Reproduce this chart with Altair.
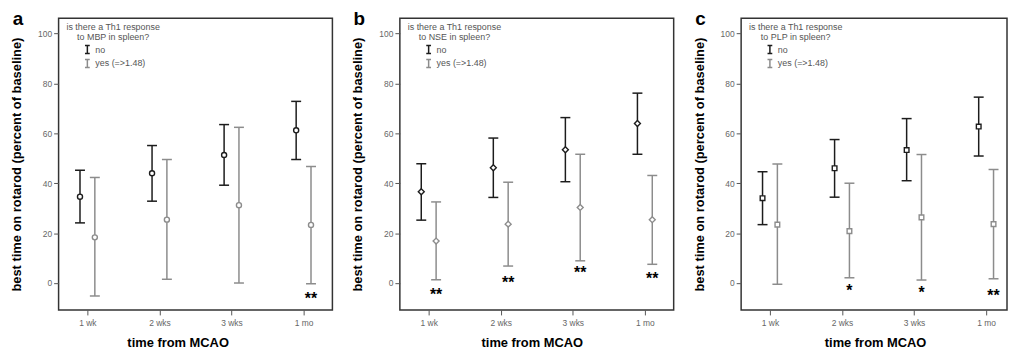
import altair as alt
import pandas as pd

CATEGORIES = ["1 wk", "2 wks", "3 wks", "1 mo"]
GROUPS = ["no", "yes (=>1.48)"]
Y_TICKS = [0, 20, 40, 60, 80, 100]

# Panel a (MBP)
A_NO_MEAN = [34.6, 44.0, 51.3, 61.2]
A_NO_LO = [24.1, 32.8, 39.2, 49.5]
A_NO_HI = [45.2, 55.1, 63.5, 72.8]
A_YES_MEAN = [18.3, 25.4, 31.2, 23.3]
A_YES_LO = [-5.2, 1.5, 0.0, -0.3]
A_YES_HI = [42.3, 49.5, 62.4, 46.7]
A_STARS = ["", "", "", "**"]
A_STAR_Y = [0, 0, 0, -5.0]

# Panel b (NSE)
B_NO_MEAN = [36.6, 46.2, 53.4, 63.9]
B_NO_LO = [25.2, 34.3, 40.6, 51.6]
B_NO_HI = [47.8, 58.1, 66.3, 76.1]
B_YES_MEAN = [16.8, 23.6, 30.3, 25.4]
B_YES_LO = [1.3, 6.8, 8.9, 7.5]
B_YES_HI = [32.5, 40.4, 51.6, 43.1]
B_STARS = ["**", "**", "**", "**"]
B_STAR_Y = [-3.4, 1.6, 5.6, 3.3]

# Panel c (PLP)
C_NO_MEAN = [34.0, 46.0, 53.3, 62.7]
C_NO_LO = [23.4, 34.4, 41.0, 50.9]
C_NO_HI = [44.6, 57.5, 65.9, 74.5]
C_YES_MEAN = [23.4, 20.8, 26.3, 23.6]
C_YES_LO = [-0.5, 2.1, 1.2, 1.7]
C_YES_HI = [47.7, 40.0, 51.5, 45.5]
C_STARS = ["", "*", "*", "**"]
C_STAR_Y = [0, -1.6, -2.6, -3.7]

FONT = "Liberation Sans"
DODGE = 0.103
CAP = 0.069


def panel(letter, antigen, shape, msize, no_mean, no_lo, no_hi,
          yes_mean, yes_lo, yes_hi, stars, star_y, width, xmax, title_x):
    rows = []
    for i in range(len(CATEGORIES)):
        rows.append({"i": i + 1, "g": GROUPS[0], "m": no_mean[i], "lo": no_lo[i], "hi": no_hi[i]})
        rows.append({"i": i + 1, "g": GROUPS[1], "m": yes_mean[i], "lo": yes_lo[i], "hi": yes_hi[i]})
    df = pd.DataFrame(rows)
    sdf = pd.DataFrame({"i": list(range(1, 5)), "t": stars, "sy": star_y})
    sdf = sdf[sdf["t"] != ""]

    label_list = "[" + ",".join("'" + c + "'" for c in CATEGORIES) + "]"
    xaxis = alt.Axis(values=[1, 2, 3, 4], labelExpr=label_list + "[datum.value - 1]",
                     title="time from MCAO", titleFontSize=13, titleFontWeight="bold",
                     titleColor="black", titleX=title_x, titleAlign="center",
                     titlePadding=9, labelFontSize=8.5, labelColor="#666",
                     labelPadding=4, tickColor="#555", tickSize=5, domain=False,
                     grid=False, labelFont=FONT, titleFont=FONT)
    yaxis = alt.Axis(values=Y_TICKS, title="best time on rotarod (percent of baseline)",
                     titleFontSize=13, titleFontWeight="bold", titleColor="black",
                     titlePadding=14, labelFontSize=8.5, labelColor="#666",
                     labelPadding=2, tickColor="#555", tickSize=5, domain=False,
                     grid=False, labelFont=FONT, titleFont=FONT)
    xs = alt.Scale(domain=[0.6, xmax], nice=False, zero=False)
    ys = alt.Scale(domain=[-10.8, 106.1], nice=False, zero=False)
    legend = alt.Legend(title=["is there a Th1 response", "to " + antigen + " in spleen?"],
                        orient="none", legendX=8, legendY=5,
                        symbolType="M-0.6,-1H0.6M0,-1V1M-0.6,1H0.6",
                        symbolSize=64, symbolStrokeWidth=1.5, symbolOffset=1,
                        symbolFillColor="transparent",
                        labelOffset=3, titleFontSize=9, titleFontWeight="normal",
                        titleColor="#555", labelFontSize=9, labelColor="#555",
                        titleAnchor="middle", titleAlign="center", rowPadding=0,
                        titlePadding=3, titleLineHeight=9.5, padding=0,
                        titleFont=FONT, labelFont=FONT)
    color = alt.Color("g:N", scale=alt.Scale(domain=GROUPS, range=["#1c1c1c", "#8c8c8c"]),
                      legend=legend)

    base = alt.Chart(df).transform_calculate(
        xp="datum.i + (datum.g == 'no' ? -%f : %f)" % (DODGE, DODGE)
    ).transform_calculate(
        c1="datum.xp - %f" % CAP, c2="datum.xp + %f" % CAP
    )

    bars = base.mark_rule(strokeWidth=1.5).encode(
        x=alt.X("xp:Q", scale=xs, axis=xaxis),
        y=alt.Y("lo:Q", scale=ys, axis=yaxis),
        y2="hi:Q",
        color=color,
    )
    cap_lo = base.mark_rule(strokeWidth=1.5).encode(
        x=alt.X("c1:Q", scale=xs, axis=xaxis), x2="c2:Q",
        y=alt.Y("lo:Q", scale=ys, axis=yaxis), color=color,
    )
    cap_hi = base.mark_rule(strokeWidth=1.5).encode(
        x=alt.X("c1:Q", scale=xs, axis=xaxis), x2="c2:Q",
        y=alt.Y("hi:Q", scale=ys, axis=yaxis), color=color,
    )
    pts = base.mark_point(shape=shape, filled=False, fill="white", size=msize,
                          strokeWidth=1.4, opacity=1).encode(
        x=alt.X("xp:Q", scale=xs, axis=xaxis),
        y=alt.Y("m:Q", scale=ys, axis=yaxis),
        color=color,
    )
    star = alt.Chart(sdf).transform_calculate(
        xs="datum.i + %f" % DODGE
    ).mark_text(fontSize=16, fontWeight="bold", baseline="alphabetic", dy=9,
                color="black", font=FONT).encode(
        x=alt.X("xs:Q", scale=xs, axis=xaxis),
        y=alt.Y("sy:Q", scale=ys, axis=yaxis),
        text="t:N",
    )
    lett = alt.Chart(pd.DataFrame({"t": [letter]})).mark_text(
        fontSize=19, fontWeight="bold", baseline="alphabetic", align="center",
        color="black", font=FONT).encode(
        x=alt.value(-41), y=alt.value(7), text="t:N")

    return alt.layer(bars, cap_lo, cap_hi, pts, star, lett).properties(width=width, height=294)


pa = panel("a", "MBP", "circle", 26, A_NO_MEAN, A_NO_LO, A_NO_HI, A_YES_MEAN, A_YES_LO,
           A_YES_HI, A_STARS, A_STAR_Y, 276, 4.4, 120)
pb = panel("b", "NSE", "diamond", 36, B_NO_MEAN, B_NO_LO, B_NO_HI, B_YES_MEAN, B_YES_LO,
           B_YES_HI, B_STARS, B_STAR_Y, 276, 4.4, 133)
pc = panel("c", "PLP", "square", 22, C_NO_MEAN, C_NO_LO, C_NO_HI, C_YES_MEAN, C_YES_LO,
           C_YES_HI, C_STARS, C_STAR_Y, 268, 0.6 + 268 / 72.63, 135)

chart = alt.hconcat(pa, pb, pc, spacing=18).resolve_scale(color="independent").properties(
    padding={"left": 2, "top": 0, "right": 0, "bottom": 0}
).configure(font=FONT).configure_view(stroke="#333", strokeWidth=1.5)

chart.save("out.html", embed_options={"renderer": "svg", "actions": False})
